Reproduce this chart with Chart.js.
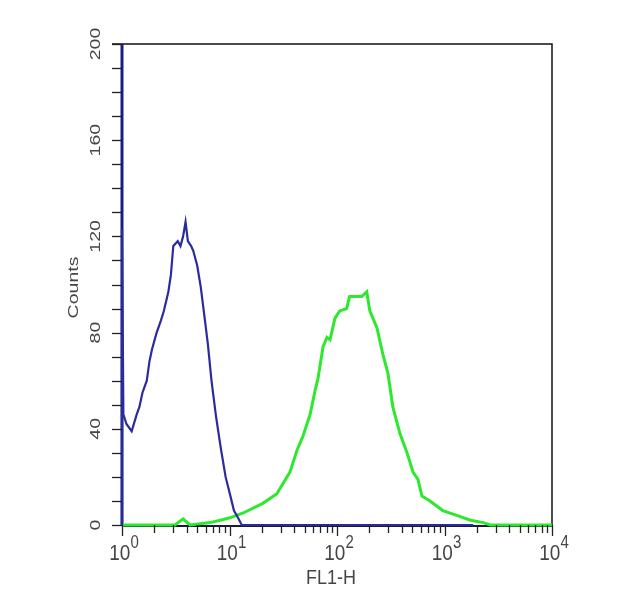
<!DOCTYPE html>
<html>
<head>
<meta charset="utf-8">
<script src="https://cdn.jsdelivr.net/npm/chart.js@4.4.1/dist/chart.umd.min.js"></script>
<style>
html,body{margin:0;padding:0;background:#fff;}
#wrap{width:624px;height:600px;}
</style>
</head>
<body>
<div id="wrap"><canvas id="c" width="624" height="600"></canvas></div>
<script>
// ---- data ----
const blueX = [1,1,1.03,1.1,1.23,1.37,1.45,1.55,1.7,1.8,1.9,2.1,2.3,2.45,2.7,2.85,3.0,3.3,3.5,3.7,3.9,4.1,4.4,4.6,5.0,5.4,5.8,6.3,6.8,7.5,8.3,9.2,10.2,11.0,12,13,1850];
const blueY = [0,123,46,42,39,46,49,55,60,68,73,80,85,89,97,104,116,118,116,120,126,118,116,114,108,99,88,75,60,45,32,20,12,6,3,0,0];
const greenX = [1,3.1,3.7,4.3,6.6,8.2,10.1,13.4,20.4,27.6,36.5,42.4,48.3,56.2,62.6,66.6,74.1,80.7,86.1,95.7,106,123,131,153,170,189,202,235,267,298,331,385,448,510,566,617,733,964,1300,1740,2300,2670,10000];
const greenY = [0,0,2.5,0,1,2,3,5,9,13,22,31,37,46,56,61,74,78,77,86,89,90,95,95,95,97,89,82,71,63,49,38,30,22,19,12,10,6,4,2,1,0,0];
const xMajorTicks = [1,10,100,1000,10000];
const xTickBase = '10';
const xTickExponents = ['0','1','2','3','4'];
const yTicks = [0,40,80,120,160,200];
const yMinorStep = 10;
const xTitle = 'FL1-H';
const yTitle = 'Counts';

const toPts = (xs, ys) => xs.map((x, i) => ({x: x, y: ys[i]}));
const FONT = '"Liberation Sans", Arial, sans-serif';
const STRETCH = 1.3;

const axisPlugin = {
  id: 'flowAxes',
  beforeDatasetsDraw(chart) {
    const ctx = chart.ctx, a = chart.chartArea;
    ctx.save();
    ctx.strokeStyle = '#111';
    ctx.lineWidth = 1.5;
    ctx.beginPath();
    ctx.moveTo(a.left - 10, a.top); ctx.lineTo(a.right, a.top); ctx.lineTo(a.right, a.bottom + 1);
    ctx.stroke();
    ctx.strokeStyle = '#1a1a3a';
    ctx.lineWidth = 2;
    ctx.beginPath();
    ctx.moveTo(a.left, a.bottom + 1); ctx.lineTo(a.right, a.bottom + 1);
    ctx.stroke();
    ctx.strokeStyle = '#1c1c86';
    ctx.lineWidth = 3;
    ctx.beginPath();
    ctx.moveTo(a.left, a.top); ctx.lineTo(a.left, a.bottom + 1);
    ctx.stroke();
    ctx.restore();
  },
  afterDraw(chart) {
    const ctx = chart.ctx, a = chart.chartArea;
    const xs = chart.scales.x, ys = chart.scales.y;
    ctx.save();
    ctx.strokeStyle = '#222';
    ctx.lineWidth = 1.3;
    for (let v = ys.min; v <= ys.max; v += yMinorStep) {
      const py = Math.round(ys.getPixelForValue(v)) + 0.5;
      ctx.beginPath(); ctx.moveTo(a.left - 10, py); ctx.lineTo(a.left, py); ctx.stroke();
    }
    for (let d = 0; d < xMajorTicks.length; d++) {
      const base = xMajorTicks[d];
      const px = Math.round(xs.getPixelForValue(base)) + 0.5;
      ctx.beginPath(); ctx.moveTo(px, a.bottom); ctx.lineTo(px, a.bottom + 11); ctx.stroke();
      if (d < xMajorTicks.length - 1) {
        for (let m = 2; m <= 9; m++) {
          const mx = Math.round(xs.getPixelForValue(base * m)) + 0.5;
          ctx.beginPath(); ctx.moveTo(mx, a.bottom); ctx.lineTo(mx, a.bottom + 8); ctx.stroke();
        }
      }
    }
    ctx.fillStyle = '#454545';
    ctx.textAlign = 'center';
    ctx.textBaseline = 'middle';
    ctx.font = '15px ' + FONT;
    yTicks.forEach(v => {
      const py = ys.getPixelForValue(v);
      ctx.save();
      ctx.translate(a.left - 26, py);
      ctx.scale(1, STRETCH);
      ctx.rotate(-Math.PI / 2);
      ctx.fillText(String(v), 0, 0);
      ctx.restore();
    });
    ctx.save();
    ctx.font = '15px ' + FONT;
    ctx.translate(a.left - 48, (a.top + a.bottom) / 2 + 3);
    ctx.scale(1, STRETCH);
    ctx.rotate(-Math.PI / 2);
    ctx.fillText(yTitle, 0, 0);
    ctx.restore();
    ctx.textBaseline = 'alphabetic';
    ctx.textAlign = 'left';
    xMajorTicks.forEach((v, i) => {
      const px = xs.getPixelForValue(v);
      ctx.font = '19px ' + FONT;
      const wb = ctx.measureText(xTickBase).width;
      ctx.font = '15px ' + FONT;
      const we = ctx.measureText(xTickExponents[i]).width;
      const x0 = px - (wb + we) / 2 + 2;
      ctx.save();
      ctx.translate(x0, a.bottom + 35);
      ctx.scale(1, 1.2);
      ctx.font = '19px ' + FONT;
      ctx.fillText(xTickBase, 0, 0);
      ctx.font = '15px ' + FONT;
      ctx.fillText(xTickExponents[i], wb, -10);
      ctx.restore();
    });
    ctx.save();
    ctx.textAlign = 'center';
    ctx.font = '18px ' + FONT;
    ctx.translate((a.left + a.right) / 2 - 6, a.bottom + 59);
    ctx.scale(1, 1.15);
    ctx.fillText(xTitle, 0, 0);
    ctx.restore();
    ctx.restore();
  }
};

new Chart(document.getElementById('c'), {
  type: 'scatter',
  data: {
    datasets: [
      {
        label: 'blue',
        data: toPts(blueX, blueY),
        showLine: true,
        borderColor: '#2b2ba0',
        borderWidth: 2.2,
        pointRadius: 0,
        tension: 0,
        clip: 4
      },
      {
        label: 'green',
        data: toPts(greenX, greenY),
        showLine: true,
        borderColor: '#2ee82e',
        borderWidth: 3,
        pointRadius: 0,
        tension: 0,
        clip: 4
      }
    ]
  },
  options: {
    responsive: false,
    animation: false,
    devicePixelRatio: 1,
    layout: { padding: { left: 122, right: 72, top: 44, bottom: 75 } },
    plugins: { legend: { display: false }, tooltip: { enabled: false } },
    scales: {
      x: { type: 'logarithmic', min: 1, max: 10000, display: false },
      y: { type: 'linear', min: 0, max: 200, display: false }
    }
  },
  plugins: [axisPlugin]
});
</script>
</body>
</html>
